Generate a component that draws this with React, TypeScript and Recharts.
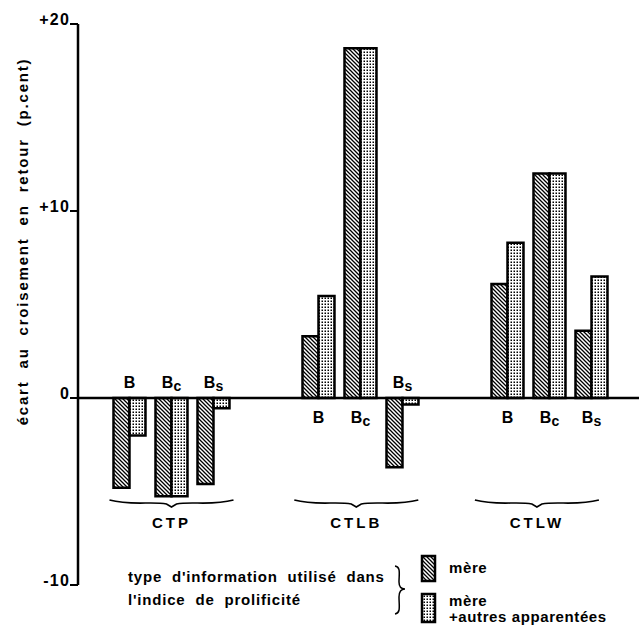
import React from 'react';
import { BarChart, Bar, XAxis, YAxis, ReferenceLine, LabelList, Legend } from 'recharts';

// position of each pair of bars on the x axis (three groups of three)
const positions = [0, 1, 2, 4.5, 5.5, 6.5, 9, 10, 11];
const subLabels = ['B', 'Bc', 'Bs', 'B', 'Bc', 'Bs', 'B', 'Bc', 'Bs'];
const mere = [-4.8, -5.25, -4.6, 3.3, 18.7, -3.7, 6.1, 12.0, 3.6];
const autres = [-2.0, -5.25, -0.55, 5.45, 18.7, -0.35, 8.3, 12.0, 6.5];
const groups = ['CTP', 'CTLB', 'CTLW'];
const groupTicks = [1, 5.4, 9.7];
const yTicks = [-10, 0, 10, 20];

const data = positions.map((x, i) => ({ x, mere: mere[i], autres: autres[i] }));

const FONT = '"Liberation Sans", Arial, sans-serif';

const fmtY = (v: number) => (v > 0 ? `+${v}` : `${v}`);

const YTick = ({ x, y, payload }: any) => (
  <text x={x} y={y + 1} textAnchor="end" fontFamily={FONT} fontWeight="bold" fontSize={16} fill="#000" letterSpacing={1.2}>
    {fmtY(payload.value)}
  </text>
);

const GroupTick = ({ x, y, index }: any) => {
  const by = y - 82;
  return (
    <g>
      <path
        d={`M${x - 62},${by - 3} C${x - 40},${by + 3} ${x - 20},${by - 2} ${x - 5},${by + 1} L${x},${by + 4} L${x + 5},${by + 1} C${x + 20},${by - 2} ${x + 40},${by + 3} ${x + 62},${by - 3}`}
        fill="none"
        stroke="#000"
        strokeWidth={1.6}
      />
      <text x={x} y={y - 57} textAnchor="middle" fontFamily={FONT} fontWeight="bold" fontSize={15} letterSpacing={3} fill="#000">
        {groups[index]}
      </text>
    </g>
  );
};

const SubLabel = (props: any) => {
  const vb = props.viewBox || props;
  const { x, y, width, height } = vb;
  const v = Number(props.value);
  const zero = v >= 0 ? Math.max(y, y + height) : Math.min(y, y + height);
  const ty = v >= 0 ? zero + 25 : zero - 10;
  const s = subLabels[props.index] || '';
  return (
    <text x={x + width} y={ty} textAnchor="middle" fontFamily={FONT} fontWeight="bold" fontSize={16} fill="#000">
      {s[0]}
      {s.length > 1 && (
        <tspan fontSize={14} dy={3}>
          {s[1]}
        </tspan>
      )}
    </text>
  );
};

const LegendContent = ({ payload }: any) => (
  <div style={{ position: 'relative', width: 639, height: 90, fontFamily: FONT, fontWeight: 'bold', fontSize: 15, color: '#000' }}>
    <div style={{ position: 'absolute', left: 128, top: 25, lineHeight: '23px', letterSpacing: 0.8, wordSpacing: 5, whiteSpace: 'nowrap' }}>
      type d'information utilisé dans
      <br />
      l'indice de prolificité
    </div>
    <svg style={{ position: 'absolute', left: 392, top: 24 }} width={16} height={52}>
      <path d="M3,2 C9,3 7,10 7,18 C7,23 9,25 13,25 C9,25 7,28 7,33 C7,42 9,49 3,50" fill="none" stroke="#000" strokeWidth={1.5} />
    </svg>
    {(payload || []).map((e: any, i: number) => {
      const lines = String(e.value).split(' +');
      return (
        <div key={i} style={{ position: 'absolute', left: 420, top: i === 0 ? 14 : 52 }}>
          <svg width={18} height={32} style={{ position: 'absolute', left: 0, top: 0 }}>
            <rect x={2} y={2} width={13} height={i === 0 ? 25 : 28} fill={e.color} stroke="#000" strokeWidth={2.5} />
          </svg>
          <div style={{ position: 'absolute', left: 29, top: i === 0 ? 6 : 1, lineHeight: '16px', whiteSpace: 'nowrap', letterSpacing: 0.6 }}>
            {lines.map((l, j) => (
              <div key={j}>{j > 0 ? `+${l}` : l}</div>
            ))}
          </div>
        </div>
      );
    })}
  </div>
);

export default function App() {
  return (
    <div style={{ position: 'absolute', left: 0, top: 0, background: '#fff' }}>
      <BarChart width={639} height={628} data={data} barGap={0} margin={{ top: 24, right: 0, bottom: 13, left: 18 }}>
        <defs>
          <pattern id="hatch" patternUnits="userSpaceOnUse" width={4} height={4}>
            <rect width={4} height={4} fill="#fff" />
            <path d="M0,0 L4,4 M-1,3 L1,5 M3,-1 L5,1" stroke="#000" strokeWidth={1.3} />
          </pattern>
          <pattern id="dots" patternUnits="userSpaceOnUse" width={3} height={3}>
            <rect width={3} height={3} fill="#fff" />
            <rect x={0.5} y={0.5} width={1.5} height={1.5} fill="#000" />
          </pattern>
        </defs>
        <XAxis
          type="number"
          dataKey="x"
          domain={[-1.226, 12.131]}
          allowDataOverflow
          ticks={groupTicks}
          interval={0}
          axisLine={false}
          tickLine={false}
          tickSize={0}
          tickMargin={0}
          height={30}
          tick={<GroupTick />}
        />
        <YAxis
          type="number"
          domain={[-10, 20]}
          ticks={yTicks}
          interval={0}
          width={60}
          tickSize={8}
          tickMargin={0}
          axisLine={{ stroke: '#000', strokeWidth: 2.5 }}
          tickLine={{ stroke: '#000', strokeWidth: 2 }}
          tick={<YTick />}
          label={{
            value: 'écart au croisement en retour (p.cent)',
            angle: -90,
            position: 'insideLeft',
            dy: -63,
            style: { textAnchor: 'middle', fontFamily: FONT, fontWeight: 'bold', fontSize: 15, fill: '#000', letterSpacing: 1.8, wordSpacing: 6 },
          }}
        />
        <ReferenceLine y={0} stroke="#000" strokeWidth={2.5} />
        <Bar dataKey="mere" name="mère" fill="url(#hatch)" stroke="#000" strokeWidth={2.5} barSize={16} isAnimationActive={false}>
          <LabelList dataKey="mere" content={<SubLabel />} />
        </Bar>
        <Bar dataKey="autres" name="mère +autres apparentées" fill="url(#dots)" stroke="#000" strokeWidth={2.5} barSize={16} isAnimationActive={false} />
        <Legend
          layout="horizontal"
          verticalAlign="middle"
          align="center"
          wrapperStyle={{ left: 0, top: 540, width: 639, height: 90 }}
          content={<LegendContent />}
        />
      </BarChart>
    </div>
  );
}
